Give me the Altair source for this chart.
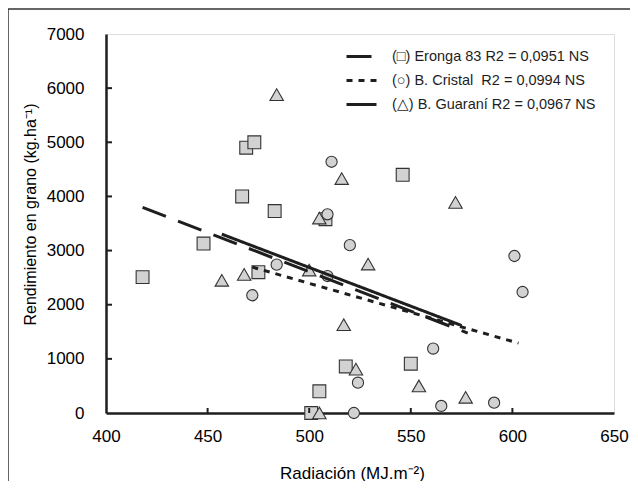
import altair as alt
import pandas as pd

# ---- data ----
series = ["Eronga 83", "B. Cristal", "B. Guaraní"]
legend_labels = [
    "(\u25A1) Eronga 83 R2 = 0,0951 NS",
    "(\u25CB) B. Cristal\u00a0 R2 = 0,0994 NS",
    "(\u25B3) B. Guaraní R2 = 0,0967 NS",
]

eronga_x = [418, 448, 467, 469, 473, 475, 483, 501, 505, 508, 518, 546, 550]
eronga_y = [2510, 3130, 4000, 4900, 5000, 2600, 3730, 0, 400, 3580, 860, 4400, 910]
cristal_x = [472, 484, 509, 509, 511, 520, 522, 524, 561, 565, 591, 601, 605]
cristal_y = [2175, 2740, 3670, 2530, 4640, 3100, 0, 560, 1190, 130, 190, 2900, 2235]
guarani_x = [457, 468, 484, 500, 505, 505, 516, 517, 523, 529, 554, 572, 577]
guarani_y = [2450, 2560, 5880, 2640, 3600, 0, 4330, 1630, 810, 2750, 500, 3890, 290]

# regression line end points
line_x0 = [418, 472, 457]
line_y0 = [3797, 2695, 3303]
line_x1 = [578, 603, 575]
line_y1 = [1477, 1290, 1616]

x_ticks = [400, 450, 500, 550, 600, 650]
y_ticks = [0, 1000, 2000, 3000, 4000, 5000, 6000, 7000]
x_inner_ticks = [450, 500, 550, 600]
y_inner_ticks = [1000, 2000, 3000, 4000, 5000, 6000]

# ---- tables ----
pts = pd.concat([
    pd.DataFrame({"x": eronga_x, "y": eronga_y, "serie": series[0]}),
    pd.DataFrame({"x": cristal_x, "y": cristal_y, "serie": series[1]}),
    pd.DataFrame({"x": guarani_x, "y": guarani_y, "serie": series[2]}),
])
rows = []
for i, lab in enumerate(legend_labels):
    rows.append({"x": line_x0[i], "y": line_y0[i], "label": lab, "o": 0})
    rows.append({"x": line_x1[i], "y": line_y1[i], "label": lab, "o": 1})
lines = pd.DataFrame(rows)

W, H = 508, 379
FONT = "Liberation Sans"
INK = "#1e1e1e"

xs = alt.Scale(domain=[400, 650], nice=False, zero=False)
ys = alt.Scale(domain=[0, 7000], nice=False)

xaxis = alt.Axis(values=x_ticks, format="d", title="Radiación (MJ.m\u207B\u00B2)", tickSize=0,
                 labelFontSize=17, labelPadding=15, labelFlush=False,
                 domainWidth=2.5, domainColor=INK, grid=False,
                 titleFontSize=17, titleFontWeight="normal",
                 titleX=246, titleY=60, titleBaseline="middle", titleAnchor="middle")
yaxis = alt.Axis(values=y_ticks, format="d", title="Rendimiento en grano (kg.ha\u207B\u00B9)", tickSize=0,
                 labelFontSize=17, labelPadding=22, labelFlush=False,
                 domainWidth=2.5, domainColor=INK, grid=False,
                 titleFontSize=16, titleFontWeight="normal",
                 titleX=-76, titleY=180, titleAngle=270, titleBaseline="middle",
                 titleAlign="center")

points = alt.Chart(pts).mark_point(filled=True, fill="#d2d2d2", stroke="#333333",
                                   strokeWidth=1.1, opacity=1).encode(
    x=alt.X("x:Q", scale=xs, axis=xaxis),
    y=alt.Y("y:Q", scale=ys, axis=yaxis),
    shape=alt.Shape("serie:N", scale=alt.Scale(domain=series,
                    range=["square", "circle", "triangle-up"]), legend=None),
    size=alt.Size("serie:N", scale=alt.Scale(type="ordinal", domain=series,
                  range=[165, 125, 180]), legend=None),
)

reg = alt.Chart(lines).mark_line(color=INK, strokeWidth=3).encode(
    x=alt.X("x:Q", scale=xs),
    y=alt.Y("y:Q", scale=ys),
    order="o:Q",
    strokeDash=alt.StrokeDash(
        "label:N",
        scale=alt.Scale(domain=legend_labels, range=[[25, 13], [6, 6], [1, 0]]),
        legend=alt.Legend(title=None, orient="none", legendX=239, legendY=6,
                          symbolType="stroke", symbolSize=900, symbolStrokeWidth=3,
                          symbolStrokeColor=INK, labelFontSize=14.5, labelFont=FONT,
                          labelColor=INK, labelOffset=14, rowPadding=1, padding=0,
                          labelLimit=400),
    ),
)

xt = alt.Chart(pd.DataFrame({"v": x_inner_ticks})).mark_rule(color=INK, strokeWidth=2).encode(
    x=alt.X("v:Q", scale=xs), y=alt.value(H), y2=alt.value(H - 5))
yt = alt.Chart(pd.DataFrame({"v": y_inner_ticks})).mark_rule(color=INK, strokeWidth=2).encode(
    y=alt.Y("v:Q", scale=ys), x=alt.value(0), x2=alt.value(6))

# outer figure border (decorative frame around the figure)
dummy = alt.Data(values=[{}])
b_left = alt.Chart(dummy).mark_rule(color="#333333", strokeWidth=1.5).encode(
    x=alt.value(-98), y=alt.value(-25), y2=alt.value(460))
b_top = alt.Chart(dummy).mark_rule(color="#333333", strokeWidth=1.5).encode(
    x=alt.value(-98), x2=alt.value(540), y=alt.value(-25))

chart = alt.layer(points, reg, xt, yt, b_left, b_top).properties(
    width=W, height=H,
    autosize=alt.AutoSizeParams(type="none"),
    padding={"left": 98, "top": 26, "right": 16, "bottom": 68},
).configure_view(stroke=INK, strokeWidth=1.5).configure_axis(
    labelFont=FONT, titleFont=FONT, labelColor=INK, titleColor=INK,
    titleFontWeight="normal",
).configure(
    background="white",
    style={"guide-title": {"fontWeight": "normal"}},
)

chart.save("out.html", embed_options={"renderer": "svg", "actions": False})
